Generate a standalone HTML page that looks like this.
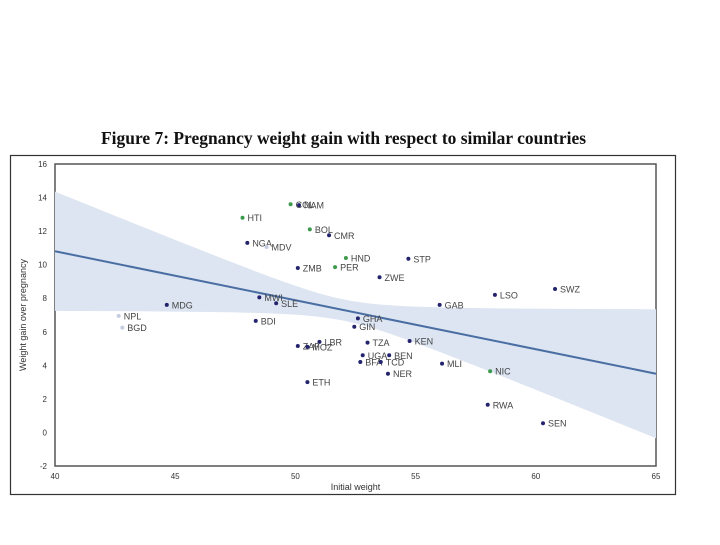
<!DOCTYPE html>
<html><head><meta charset="utf-8"><style>
body{margin:0;background:#fff;width:720px;height:540px;overflow:hidden}
</style></head><body>
<svg id="chart" width="720" height="540" xmlns="http://www.w3.org/2000/svg" font-family="Liberation Sans, sans-serif">
<text x="101" y="144" textLength="485" lengthAdjust="spacingAndGlyphs" font-family="Liberation Serif, serif" font-weight="bold" font-size="18" fill="#111">Figure 7: Pregnancy weight gain with respect to similar countries</text>
<rect x="10.5" y="155.5" width="665" height="339" fill="none" stroke="#333" stroke-width="1.2"/>
<g id="plot"></g>
</svg>
<script>
const codes=["COL","NAM","HTI","BOL","CMR","NGA","MDV","HND","STP","ZMB","PER","ZWE","LSO","SWZ","GAB","MWI","SLE","MDG","NPL","BGD","BDI","GHA","GIN","LBR","ZAF","MOZ","TZA","KEN","UGA","BEN","BFA","TCD","MLI","NIC","NER","ETH","RWA","SEN"];
const initialWeight=[49.8,50.15,47.8,50.6,51.4,48.0,48.8,52.1,54.7,50.1,51.65,53.5,58.3,60.8,56.0,48.5,49.2,44.65,42.65,42.8,48.35,52.6,52.45,51.0,50.1,50.5,53.0,54.75,52.8,53.9,52.7,53.55,56.1,58.1,53.85,50.5,58.0,60.3];
const weightGain=[13.6,13.55,12.8,12.1,11.75,11.3,11.05,10.4,10.35,9.8,9.85,9.25,8.2,8.55,7.6,8.05,7.7,7.6,6.95,6.25,6.65,6.8,6.3,5.4,5.15,5.1,5.35,5.45,4.6,4.6,4.2,4.2,4.1,3.65,3.5,3.0,1.65,0.55];
const group=["g","n","g","g","n","n","l","g","n","n","g","n","n","n","n","n","n","n","l","l","n","n","n","n","n","n","n","n","n","n","n","n","n","g","n","n","n","n"];
const xTicks=[40,45,50,55,60,65];
const yTicks=[-2,0,2,4,6,8,10,12,14,16];
const fitLine=[10.8,-0.292];
const fitBand=[52,0.4,0.085];

const L=55,R=656,T=164,B=466;
const X=v=>L+(v-40)/25*(R-L);
const Y=v=>B-(v+2)/18*(B-T);
const ns="http://www.w3.org/2000/svg";
const g=document.getElementById('plot');
function mk(t,a,p){const e=document.createElementNS(ns,t);for(const k in a)e.setAttribute(k,a[k]);(p||g).appendChild(e);return e;}

const frame=mk('rect',{x:L,y:T,width:R-L,height:B-T,fill:'none',stroke:'#555','stroke-width':1.5});



const fy=x=>fitLine[0]+fitLine[1]*(x-40);
const hw=x=>Math.sqrt(fitBand[1]+fitBand[2]*(x-fitBand[0])**2);
let up=[],lo=[];
for(let x=40;x<=65.001;x+=0.5){up.push(X(x)+','+Y(fy(x)+hw(x)));lo.unshift(X(x)+','+Y(fy(x)-hw(x)));}
const band=mk('polygon',{points:up.concat(lo).join(' '),fill:'#dce5f1'});


const line=mk('line',{x1:X(40),y1:Y(fy(40)),x2:X(65),y2:Y(fy(65)),stroke:'#4a6ea3','stroke-width':2});



xTicks.forEach(v=>{
  const t=mk('text',{x:X(v),y:B+13,'text-anchor':'middle','font-size':8,fill:'#333'});t.textContent=v;
  
  
});
yTicks.forEach(v=>{
  const t=mk('text',{x:L-8,y:Y(v)+3,'text-anchor':'end','font-size':8,fill:'#333'});t.textContent=v;
  
  
});
const xt=mk('text',{x:(L+R)/2,y:490,'text-anchor':'middle','font-size':9,fill:'#333'});xt.textContent='Initial weight';


const yt=mk('text',{x:0,y:0,transform:'translate(26,315) rotate(-90)','text-anchor':'middle','font-size':9,fill:'#333'});yt.textContent='Weight gain over pregnancy';



const col={n:'#23236e',g:'#3c9a4c',l:'#c5cde0'};
codes.forEach((c,i)=>{
  const cx=X(initialWeight[i]),cy=Y(weightGain[i]);
  const d=mk('circle',{cx:cx,cy:cy,r:2,fill:col[group[i]]});
  
  
  const t=mk('text',{x:cx+5,y:cy+3.5,'font-size':9,fill:'#444'});t.textContent=c;
  
  
});
</script>
</body></html>
